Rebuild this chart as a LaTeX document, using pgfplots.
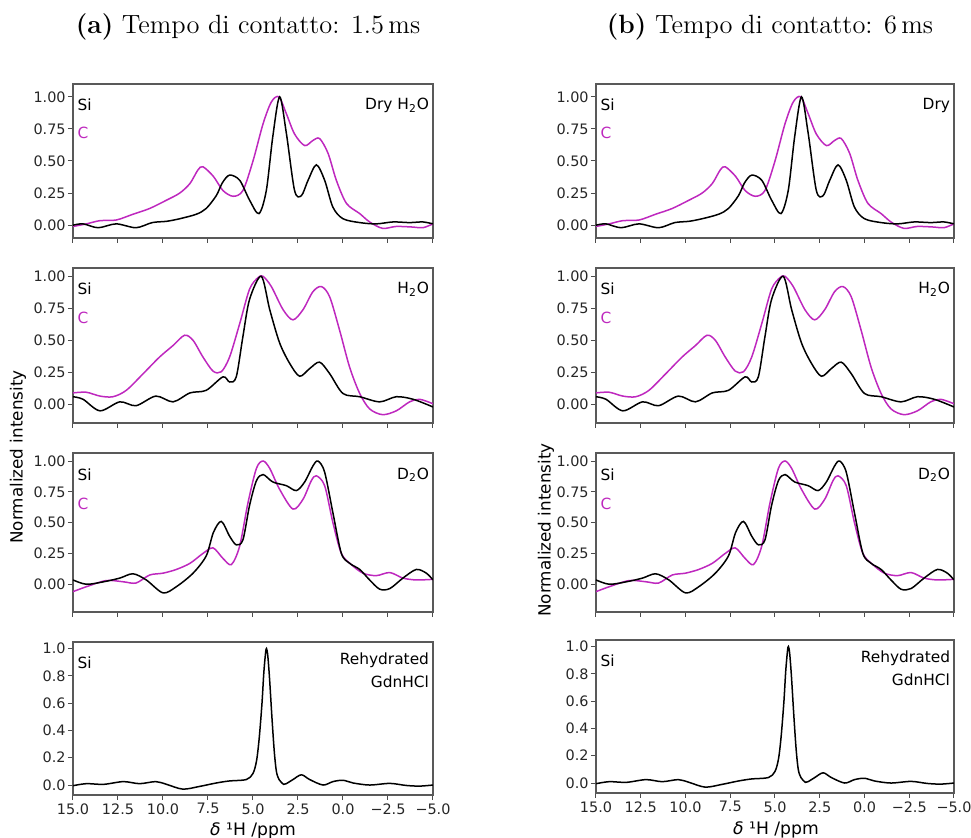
\documentclass[border=0pt]{standalone}
\usepackage{fontspec}
\usepackage{pgfplots}
\usepackage{pgfplotstable}
\pgfplotsset{compat=1.18}
\newfontfamily\dv{DejaVu Sans}
\definecolor{cmag}{RGB}{190,40,190}
\newcommand{\lab}{\dv\fontsize{7.7}{11.5}\selectfont}

% Si = black, C = magenta; same spectra in both columns
\pgfplotstableread{
x y
15 0.0
14.44 0.01
13.6 -0.02
12.6 0.01
11.5 -0.02
10.6 0.02
9.8 0.03
9.07 0.05
8.15 0.085
7.6 0.13
7.04 0.23
6.7 0.33
6.3 0.39
5.74 0.35
5.19 0.195
4.67 0.09
4.26 0.27
3.9 0.69
3.52 1.0
3.15 0.72
2.69 0.27
2.31 0.23
1.94 0.35
1.48 0.47
1.02 0.35
0.56 0.14
0.0 0.05
-0.93 0.02
-1.85 0.01
-2.78 0.025
-3.7 0.02
-4.44 0.025
-5 0.01
}\siA
\pgfplotstableread{
x y
15 -0.01
14.26 0.01
13.5 0.035
12.6 0.04
11.67 0.085
10.74 0.13
9.8 0.195
9.07 0.25
8.5 0.325
8.06 0.43
7.78 0.455
7.2 0.38
6.67 0.27
6.1 0.225
5.56 0.27
5.0 0.5
4.44 0.79
3.98 0.96
3.56 1.0
3.15 0.87
2.69 0.71
2.13 0.62
1.67 0.66
1.3 0.675
0.83 0.56
0.37 0.35
-0.19 0.17
-0.93 0.09
-1.48 0.025
-2.2 -0.025
-2.96 -0.01
-3.9 -0.015
-4.44 -0.02
-5 0.01
}\cA
\pgfplotstableread{
x y
15 0.06
14.44 0.04
13.5 -0.05
12.4 0.02
11.5 -0.01
10.4 0.065
9.44 0.02
8.5 0.09
7.6 0.11
6.67 0.215
6.3 0.175
5.93 0.215
5.56 0.53
5.19 0.82
4.54 1.0
4.07 0.74
3.52 0.48
2.96 0.32
2.41 0.22
1.85 0.28
1.3 0.33
0.74 0.24
0.0 0.085
-0.93 0.06
-2.04 0.02
-2.96 0.06
-3.9 0.04
-5 -0.02
}\siB
\pgfplotstableread{
x y
15 0.09
14.26 0.095
13.5 0.065
12.78 0.06
12.04 0.11
11.1 0.24
10.19 0.37
9.44 0.46
8.8 0.54
8.33 0.5
7.78 0.37
7.22 0.26
6.76 0.255
6.3 0.37
5.74 0.63
5.19 0.9
4.72 0.99
4.44 1.0
3.98 0.92
3.33 0.74
2.78 0.66
2.22 0.74
1.67 0.88
1.2 0.92
0.74 0.84
0.19 0.58
-0.37 0.29
-0.93 0.085
-1.48 -0.035
-2.2 -0.08
-2.96 -0.05
-3.7 0.02
-4.26 0.04
-5 0.005
}\cB
\pgfplotstableread{
x y
15 0.035
14.26 0.0
13.3 0.02
12.4 0.05
11.67 0.085
10.93 0.035
10.0 -0.07
9.26 -0.02
8.33 0.09
7.6 0.23
7.2 0.42
6.76 0.51
6.3 0.39
5.93 0.32
5.56 0.36
5.19 0.64
4.81 0.84
4.44 0.89
3.9 0.83
3.15 0.8
2.59 0.76
2.13 0.83
1.67 0.96
1.39 1.0
1.02 0.91
0.56 0.58
0.09 0.25
-0.37 0.17
-0.93 0.12
-1.48 0.035
-2.04 -0.04
-2.6 -0.035
-3.33 0.05
-4.07 0.12
-4.63 0.09
-5 0.035
}\siC
\pgfplotstableread{
x y
15 -0.06
14.26 -0.02
13.15 0.03
12.2 0.02
11.5 0.01
10.74 0.075
10.0 0.09
9.26 0.12
8.5 0.17
7.78 0.25
7.22 0.295
6.67 0.21
6.2 0.16
5.74 0.31
5.28 0.66
4.81 0.94
4.44 1.0
4.07 0.94
3.52 0.77
2.78 0.61
2.22 0.69
1.76 0.84
1.48 0.88
1.02 0.8
0.56 0.5
0.09 0.25
-0.46 0.16
-1.11 0.09
-1.85 0.07
-2.6 0.095
-3.33 0.05
-4.07 0.035
-5 0.04
}\cC
\pgfplotstableread{
x y
15 -0.005
14.26 0.01
13.3 0.005
12.2 0.025
11.3 0.01
10.4 0.025
9.8 0.005
8.9 -0.03
7.96 -0.01
7.04 0.015
6.3 0.03
5.37 0.04
5.0 0.085
4.8 0.18
4.65 0.35
4.5 0.6
4.4 0.82
4.3 0.97
4.25 1.0
4.18 0.95
4.08 0.78
3.95 0.5
3.82 0.25
3.7 0.1
3.55 0.04
3.3 0.005
3.15 0.01
2.78 0.04
2.31 0.075
1.85 0.04
1.11 0.0
0.56 0.025
0.0 0.035
-0.56 0.015
-1.48 0.0
-2.6 0.012
-3.5 -0.003
-4.26 -0.008
-5 0.0
}\siD

\pgfplotsset{
  panel/.style={
    scale only axis, anchor=north west,
    xmin=-5, xmax=15, x dir=reverse,
    xtick={-5,-2.5,0,2.5,5,7.5,10,12.5,15},
    xticklabels={},
    tick align=outside, tick pos=left,
    major tick length=2.5pt,
    tick style={black!70, line width=0.5pt},
    axis line style={black!65, line width=0.6pt},
    tick label style={font=\dv\fontsize{7.2}{8}\selectfont, text=black!85},
    yticklabel style={inner sep=1pt},
    xticklabel style={inner sep=1.5pt},
    clip mode=individual,
  },
  quarter/.style={ytick={0,0.25,0.5,0.75,1}, yticklabels={0.00,0.25,0.50,0.75,1.00}},
  fifth/.style={ytick={0,0.2,0.4,0.6,0.8,1}, yticklabels={0.0,0.2,0.4,0.6,0.8,1.0},
    xticklabels={−5.0,−2.5,0.0,2.5,5.0,7.5,10.0,12.5,15.0}},
  si/.style={black, line width=0.75pt, smooth},
  cc/.style={cmag, line width=0.75pt, smooth},
}

\begin{document}
\begin{tikzpicture}
\useasboundingbox (0,0) rectangle (485.5pt,-419pt);

\node[anchor=base, font=\fontsize{13.2}{15}\selectfont] at (124pt,-16.8pt) {\textbf{(a)} Tempo di contatto: 1.5\,ms};
\node[anchor=base, font=\fontsize{13.2}{15}\selectfont] at (385pt,-16.8pt) {\textbf{(b)} Tempo di contatto: 6\,ms};

\node[rotate=90, font=\dv\fontsize{8.4}{10}\selectfont] at (9pt,-228.5pt) {Normalized intensity};
\node[rotate=90, font=\dv\fontsize{8.4}{10}\selectfont] at (273pt,-265pt) {Normalized intensity};
\node[font=\dv\fontsize{8.6}{10}\selectfont] at (126.5pt,-415.5pt) {{\itshape δ} ¹H /ppm};
\node[font=\dv\fontsize{8.6}{10}\selectfont] at (388pt,-415pt) {{\itshape δ} ¹H /ppm};

% ---------- left column ----------
\begin{axis}[panel, quarter, at={(36.5pt,-42pt)}, width=180pt, height=77pt, ymin=-0.10, ymax=1.10]
  \addplot[cc] table {\cA};
  \addplot[si] table {\siA};
  \node[anchor=north west, inner sep=0, font=\lab] at (rel axis cs:0.012,0.905) {Si};
  \node[anchor=north west, inner sep=0, font=\lab, text=cmag] at (rel axis cs:0.012,0.72) {C};
  \node[anchor=north east, inner sep=0, font=\lab] at (rel axis cs:0.99,0.91) {Dry H\textsubscript{2}O};
\end{axis}
\begin{axis}[panel, quarter, at={(36.5pt,-134pt)}, width=180pt, height=77.5pt, ymin=-0.145, ymax=1.065]
  \addplot[cc] table {\cB};
  \addplot[si] table {\siB};
  \node[anchor=north west, inner sep=0, font=\lab] at (rel axis cs:0.012,0.905) {Si};
  \node[anchor=north west, inner sep=0, font=\lab, text=cmag] at (rel axis cs:0.012,0.72) {C};
  \node[anchor=north east, inner sep=0, font=\lab] at (rel axis cs:0.99,0.91) {H\textsubscript{2}O};
\end{axis}
\begin{axis}[panel, quarter, at={(36.5pt,-226.5pt)}, width=180pt, height=79.5pt, ymin=-0.225, ymax=1.065]
  \addplot[cc] table {\cC};
  \addplot[si] table {\siC};
  \node[anchor=north west, inner sep=0, font=\lab] at (rel axis cs:0.012,0.905) {Si};
  \node[anchor=north west, inner sep=0, font=\lab, text=cmag] at (rel axis cs:0.012,0.72) {C};
  \node[anchor=north east, inner sep=0, font=\lab] at (rel axis cs:0.99,0.91) {D\textsubscript{2}O};
\end{axis}
\begin{axis}[panel, fifth, at={(36.5pt,-321pt)}, width=180pt, height=76.5pt, ymin=-0.073, ymax=1.048]
  \addplot[si] table {\siD};
  \node[anchor=north west, inner sep=0, font=\lab] at (rel axis cs:0.012,0.905) {Si};
  \node[anchor=north east, align=right, inner sep=0, font=\lab] at (rel axis cs:0.99,0.93) {Rehydrated\\GdnHCl};
\end{axis}

% ---------- right column ----------
\begin{axis}[panel, quarter, at={(298pt,-42pt)}, width=179pt, height=77pt, ymin=-0.10, ymax=1.10]
  \addplot[cc] table {\cA};
  \addplot[si] table {\siA};
  \node[anchor=north west, inner sep=0, font=\lab] at (rel axis cs:0.012,0.905) {Si};
  \node[anchor=north west, inner sep=0, font=\lab, text=cmag] at (rel axis cs:0.012,0.72) {C};
  \node[anchor=north east, inner sep=0, font=\lab] at (rel axis cs:0.99,0.91) {Dry};
\end{axis}
\begin{axis}[panel, quarter, at={(298pt,-134pt)}, width=179pt, height=77.5pt, ymin=-0.145, ymax=1.065]
  \addplot[cc] table {\cB};
  \addplot[si] table {\siB};
  \node[anchor=north west, inner sep=0, font=\lab] at (rel axis cs:0.012,0.905) {Si};
  \node[anchor=north west, inner sep=0, font=\lab, text=cmag] at (rel axis cs:0.012,0.72) {C};
  \node[anchor=north east, inner sep=0, font=\lab] at (rel axis cs:0.99,0.91) {H\textsubscript{2}O};
\end{axis}
\begin{axis}[panel, quarter, at={(298pt,-226.5pt)}, width=179pt, height=79.5pt, ymin=-0.225, ymax=1.065]
  \addplot[cc] table {\cC};
  \addplot[si] table {\siC};
  \node[anchor=north west, inner sep=0, font=\lab] at (rel axis cs:0.012,0.905) {Si};
  \node[anchor=north west, inner sep=0, font=\lab, text=cmag] at (rel axis cs:0.012,0.72) {C};
  \node[anchor=north east, inner sep=0, font=\lab] at (rel axis cs:0.99,0.91) {D\textsubscript{2}O};
\end{axis}
\begin{axis}[panel, fifth, at={(298pt,-320pt)}, width=179pt, height=76.5pt, ymin=-0.073, ymax=1.048]
  \addplot[si] table {\siD};
  \node[anchor=north west, inner sep=0, font=\lab] at (rel axis cs:0.012,0.905) {Si};
  \node[anchor=north east, align=right, inner sep=0, font=\lab] at (rel axis cs:0.99,0.93) {Rehydrated\\GdnHCl};
\end{axis}
\end{tikzpicture}
\end{document}
